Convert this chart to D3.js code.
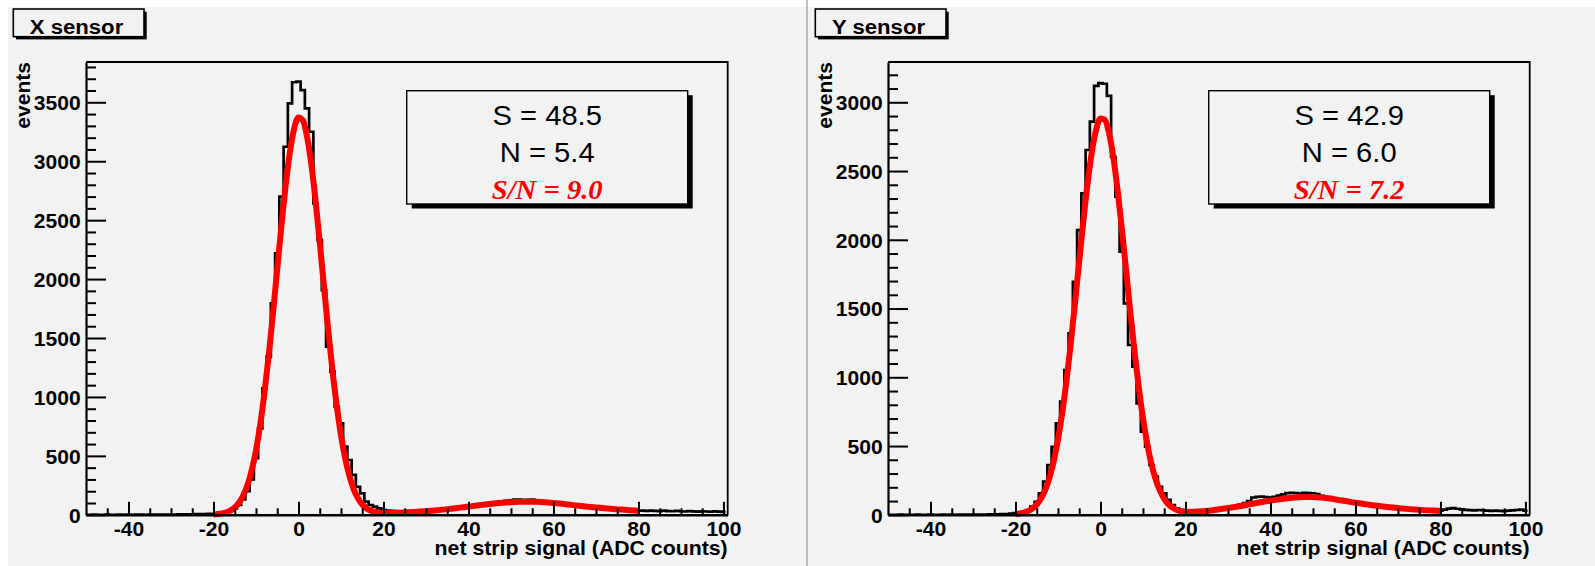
<!DOCTYPE html>
<html>
<head>
<meta charset="utf-8">
<script src="https://cdn.jsdelivr.net/npm/d3@7"></script>
<style>
  body { margin: 0; background: #fff; }
  svg { display: block; }
</style>
</head>
<body>
<div id="chart"></div>
<script>

// ---------------- data ----------------

// bin centres, 1 ADC count wide
var binCenters = d3.range(-50, 101);

// X sensor histogram counts, bins -50 .. 100
var histXSensor = [
    0, 0, 1, 0, 0, 1, 0, 0, 1, 0, 1, 0, 1, 1, 0, 1, 1, 2, 1, 2,
    2, 2, 3, 3, 4, 4, 5, 6, 7, 8,
    9, 11, 15, 22, 35, 55, 85, 130, 200, 300,
    480, 734, 1073, 1342, 1795, 2219, 2699, 3123, 3491, 3670,
    3675, 3604, 3449, 3250, 2643, 2331, 1907, 1426, 1214, 917,
    776, 578, 465, 338, 238, 182, 111, 83, 69, 55,
    40, 35, 33, 32, 30, 30, 31, 32, 33, 35,
    38, 38, 42, 45, 48, 53, 57, 62, 66, 72,
    76, 80, 85, 90, 94, 99, 103, 108, 112, 118,
    122, 130, 128, 124, 126, 130, 120, 116, 112, 106,
    102, 98, 95, 92, 88, 84, 80, 76, 72, 68,
    64, 60, 57, 54, 51, 48, 45, 42, 40, 38,
    36, 35, 34, 36, 33, 32, 35, 31, 30, 33,
    30, 28, 31, 29, 27, 30, 28, 26, 29, 27, 25
];

// Y sensor histogram counts, bins -50 .. 100
var histYSensor = [
    0, 0, 0, 1, 0, 0, 0, 1, 0, 0, 1, 0, 0, 1, 0, 1, 0, 1, 1, 1,
    1, 1, 2, 2, 3, 3, 4, 5, 6, 8,
    12, 18, 25, 35, 59, 95, 156, 241, 362, 495,
    665, 823, 1053, 1320, 1695, 2071, 2338, 2653, 2860, 3120,
    3140, 3135, 3047, 2604, 2313, 1914, 1538, 1235, 1077, 811,
    604, 495, 362, 277, 204, 156, 108, 71, 47, 36,
    30, 28, 27, 26, 27, 29, 32, 36, 41, 46,
    52, 58, 66, 75, 85, 100, 126, 130, 132, 128,
    125, 130, 140, 148, 158, 160, 157, 155, 160, 158,
    156, 150, 138, 128, 120, 112, 106, 100, 95, 92,
    90, 86, 82, 76, 70, 66, 62, 58, 54, 50,
    47, 44, 41, 39, 37, 35, 33, 31, 30, 29,
    30, 38, 45, 48, 44, 40, 36, 34, 32, 35,
    33, 30, 29, 31, 28, 27, 30, 32, 35, 38, 30
];

// positions where the fitted curve was read
var fitPos = [
    -20, -19, -18, -17, -16, -15, -14, -13, -12, -11,
    -10, -9, -8, -7, -6, -5, -4, -3, -2, -1,
    0, 1, 2, 3, 4, 5, 6, 7, 8, 9,
    10, 11, 12, 13, 14, 15, 16, 17, 18, 19,
    20,
    22, 24, 26, 28, 30, 32, 34, 36, 38, 40,
    42, 44, 46, 48, 50, 52, 54, 56, 58, 60,
    62, 64, 66, 68, 70, 72, 74, 76, 78, 80
];

var fitXSensor = [
    3, 6, 11, 20, 36, 62, 102, 164, 253, 379,
    548, 767, 1037, 1354, 1710, 2086, 2459, 2801, 3083, 3280,
    3371, 3348, 3213, 2979, 2670, 2312, 1935, 1565, 1223, 925,
    675, 477, 327, 216, 140, 88, 56, 36, 25, 18,
    15,
    15, 17, 21, 26, 31, 37, 44, 52, 61, 70,
    79, 87, 95, 102, 107, 110, 111, 110, 106, 100,
    93, 85, 77, 69, 62, 55, 49, 44, 39, 35
];

var fitYSensor = [
    5, 9, 16, 27, 46, 75, 119, 182, 271, 391,
    547, 742, 976, 1244, 1539, 1845, 2146, 2419, 2645, 2804,
    2883, 2874, 2778, 2605, 2368, 2088, 1785, 1480, 1190, 929,
    703, 517, 368, 256, 174, 116, 76, 51, 35, 25,
    21,
    22, 26, 32, 40, 49, 59, 70, 82, 93, 103,
    112, 120, 126, 129, 129, 125, 118, 108, 98, 88,
    79, 70, 62, 55, 49, 43, 38, 34, 31, 28
];

var xTickValues = [-40, -20, 0, 20, 40, 60, 80, 100];
var yTicksXSensor = [0, 500, 1000, 1500, 2000, 2500, 3000, 3500];
var yTicksYSensor = [0, 500, 1000, 1500, 2000, 2500, 3000];

var titles = ["X sensor", "Y sensor"];
var statsXSensor = ["S = 48.5", "N = 5.4", "S/N = 9.0"];
var statsYSensor = ["S = 42.9", "N = 6.0", "S/N = 7.2"];


// ---------------- drawing ----------------

var W = 1595, H = 566;
var FONT = '"Liberation Sans", Arial, Helvetica, sans-serif';
var SERIF = '"Liberation Serif", "Times New Roman", Times, serif';
var SX = 1.08;   // the picture is a little wider than tall text

var svg = d3.select("#chart")
    .append("svg")
    .attr("width", W)
    .attr("height", H);

svg.append("rect").attr("width", W).attr("height", H).attr("fill", "#ffffff");
// pad background
svg.append("rect")
    .attr("x", 8).attr("y", 7)
    .attr("width", W - 8).attr("height", H - 7)
    .attr("fill", "#f2f2f2");
// border between the two pads
svg.append("line")
    .attr("x1", 807).attr("x2", 807)
    .attr("y1", 0).attr("y2", H)
    .attr("stroke", "#a8a8a8")
    .attr("stroke-width", 1.5);

// text helper, stretched slightly in x
function addText(parent, x, y, str, o) {
    return parent.append("text")
        .attr("transform", "translate(" + x + "," + y + ")" + (o.rotate ? " rotate(" + o.rotate + ")" : "") + " scale(" + SX + ",1)")
        .attr("text-anchor", o.anchor || "middle")
        .attr("font-family", o.family || FONT)
        .attr("font-size", o.size + "px")
        .attr("font-weight", o.weight || "normal")
        .attr("font-style", o.style || "normal")
        .attr("fill", o.fill || "#000")
        .text(str);
}

var panels = [
    {dx: 0, title: titles[0], hist: histXSensor, fit: fitXSensor, yMax: 3842, yTicks: yTicksXSensor, stats: statsXSensor},
    {dx: 802, title: titles[1], hist: histYSensor, fit: fitYSensor, yMax: 3293, yTicks: yTicksYSensor, stats: statsYSensor}
];

panels.forEach(function (p, pi) {

    var g = svg.append("g").attr("transform", "translate(" + p.dx + ",0)");

    var frame = {left: 86, right: 727.7, top: 62, bottom: 514.8};

    var x = d3.scaleLinear().domain([-50, 101]).range([frame.left, frame.right]);
    var y = d3.scaleLinear().domain([0, p.yMax]).range([frame.bottom, frame.top]);

    // title box with shadow
    g.append("rect")
        .attr("x", 16).attr("y", 11.7)
        .attr("width", 130.7).attr("height", 27.7)
        .attr("fill", "#000");
    g.append("rect")
        .attr("x", 13.3).attr("y", 9)
        .attr("width", 130.7).attr("height", 27.7)
        .attr("fill", "#f2f2f2")
        .attr("stroke", "#000")
        .attr("stroke-width", 1.6);
    addText(g, 76.5, 34, p.title, {size: 20.5, weight: "bold"});

    // clip for the histogram
    var clipId = "clip" + pi;
    g.append("clipPath").attr("id", clipId)
        .append("rect")
        .attr("x", frame.left).attr("y", frame.top)
        .attr("width", frame.right - frame.left)
        .attr("height", frame.bottom - frame.top);

    // histogram as steps
    var stepPts = binCenters.map(function (c, i) { return [c - 0.5, p.hist[i]]; });
    stepPts.push([binCenters[binCenters.length - 1] + 0.5, p.hist[p.hist.length - 1]]);

    var stepLine = d3.line()
        .x(function (d) { return x(d[0]); })
        .y(function (d) { return y(d[1]); })
        .curve(d3.curveStepAfter);

    g.append("path")
        .attr("clip-path", "url(#" + clipId + ")")
        .attr("d", stepLine(stepPts))
        .attr("fill", "none")
        .attr("stroke", "#000")
        .attr("stroke-width", 2.7);

    // fitted curve
    var fitLine = d3.line()
        .x(function (d, i) { return x(fitPos[i]); })
        .y(function (d) { return y(d); })
        .curve(d3.curveMonotoneX);

    g.append("path")
        .attr("d", fitLine(p.fit))
        .attr("fill", "none")
        .attr("stroke", "#ff0000")
        .attr("stroke-width", 6)
        .attr("stroke-linejoin", "round");

    // frame top and right
    g.append("path")
        .attr("d", "M" + frame.left + "," + frame.top + "H" + frame.right + "V" + frame.bottom)
        .attr("fill", "none")
        .attr("stroke", "#000")
        .attr("stroke-width", 1.8);

    // X axis, major + minor ticks
    var xMinor = d3.range(-45, 101, 5).filter(function (v) { return v % 20 !== 0; });

    var gxMinor = g.append("g")
        .attr("transform", "translate(0," + frame.bottom + ")")
        .call(d3.axisBottom(x).tickValues(xMinor).tickSizeInner(-6.5).tickSizeOuter(0).tickFormat(""));
    gxMinor.select(".domain").remove();

    var gx = g.append("g")
        .attr("transform", "translate(0," + frame.bottom + ")")
        .call(d3.axisBottom(x).tickValues(xTickValues).tickSizeInner(-13).tickSizeOuter(0).tickPadding(7)
            .tickFormat(function (d) { return String(d); }));

    [gx, gxMinor].forEach(function (a) {
        a.selectAll(".tick line").attr("stroke", "#000").attr("stroke-width", 2);
    });
    gx.select(".domain").attr("stroke", "#000").attr("stroke-width", 2.6);
    gx.selectAll(".tick text")
        .attr("font-family", FONT)
        .attr("font-size", "19.5px")
        .attr("font-weight", "bold")
        .attr("fill", "#000")
        .attr("transform", "scale(" + SX + ",1)");

    // Y axis, major + minor ticks
    var yMinor = d3.range(100, p.yMax, 100).filter(function (v) { return v % 500 !== 0; });

    var gyMinor = g.append("g")
        .attr("transform", "translate(" + frame.left + ",0)")
        .call(d3.axisLeft(y).tickValues(yMinor).tickSizeInner(-10).tickSizeOuter(0).tickFormat(""));
    gyMinor.select(".domain").remove();

    var gy = g.append("g")
        .attr("transform", "translate(" + frame.left + ",0)")
        .call(d3.axisLeft(y).tickValues(p.yTicks).tickSizeInner(-20).tickSizeOuter(0).tickPadding(5)
            .tickFormat(function (d) { return String(d); }));

    [gy, gyMinor].forEach(function (a) {
        a.selectAll(".tick line").attr("stroke", "#000").attr("stroke-width", 2);
    });
    gy.select(".domain").attr("stroke", "#000").attr("stroke-width", 2.2);
    gy.selectAll(".tick text")
        .attr("font-family", FONT)
        .attr("font-size", "19.5px")
        .attr("font-weight", "bold")
        .attr("fill", "#000")
        .attr("dy", "0.38em")
        .attr("transform", "scale(" + SX + ",1)");

    // axis titles
    addText(g, frame.right, 555, "net strip signal (ADC counts)", {size: 19.7, weight: "bold", anchor: "end"});
    addText(g, 29.5, frame.top, "events", {size: 19.5, weight: "bold", anchor: "end", rotate: -90});

    // stats box with shadow
    var box = {x: 406.7, y: 90.7, w: 281, h: 113.3};
    g.append("rect")
        .attr("x", box.x + 5).attr("y", box.y + 4.5)
        .attr("width", box.w).attr("height", box.h)
        .attr("fill", "#000");
    g.append("rect")
        .attr("x", box.x).attr("y", box.y)
        .attr("width", box.w).attr("height", box.h)
        .attr("fill", "#f2f2f2")
        .attr("stroke", "#000")
        .attr("stroke-width", 1.4);

    var cx = box.x + box.w / 2;
    addText(g, cx, 125, p.stats[0], {size: 27});
    addText(g, cx, 161.7, p.stats[1], {size: 27});
    addText(g, cx, 199, p.stats[2], {size: 26.5, family: SERIF, weight: "bold", style: "italic", fill: "#ff0000"});
});

</script>
</body>
</html>
